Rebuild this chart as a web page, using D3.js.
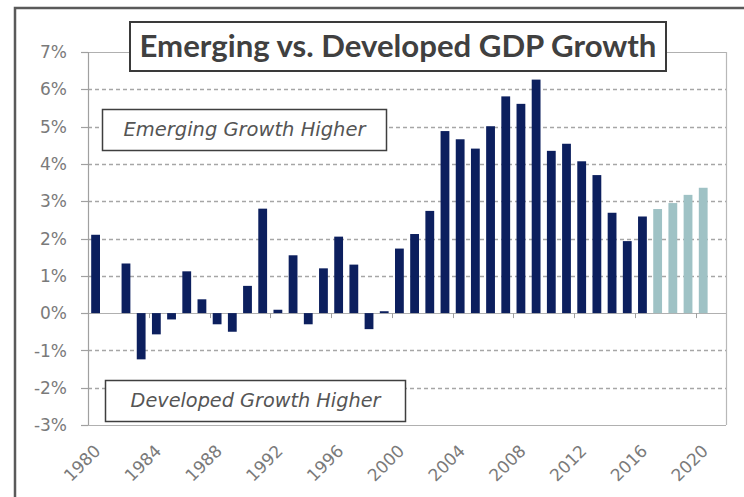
<!DOCTYPE html>
<html>
<head>
<meta charset="utf-8">
<script src="https://cdn.jsdelivr.net/npm/d3@7"></script>
<style>
  html, body { margin: 0; padding: 0; background: #fff; }
  svg { display: block; }
</style>
</head>
<body>
<svg id="chart" width="744" height="497"></svg>
<script>
// ---- data ----
const years = [1980,1981,1982,1983,1984,1985,1986,1987,1988,1989,
               1990,1991,1992,1993,1994,1995,1996,1997,1998,1999,
               2000,2001,2002,2003,2004,2005,2006,2007,2008,2009,
               2010,2011,2012,2013,2014,2015,2016,2017,2018,2019,
               2020,2021];
const actualGap = [2.10,null,1.33,-1.24,-0.57,-0.17,1.12,0.37,-0.30,-0.50,
                   0.73,2.80,0.09,1.55,-0.30,1.20,2.05,1.30,-0.43,0.05,
                   1.73,2.12,2.74,4.88,4.66,4.41,5.01,5.81,5.61,6.26,
                   4.35,4.54,4.07,3.70,2.69,1.93,2.59,null,null,null,
                   null,null];
const forecastGap = [null,null,null,null,null,null,null,null,null,null,
                     null,null,null,null,null,null,null,null,null,null,
                     null,null,null,null,null,null,null,null,null,null,
                     null,null,null,null,null,null,null,2.79,2.95,3.17,
                     3.36,null];
const yTicks = [-3,-2,-1,0,1,2,3,4,5,6,7];
const xTickLabels = [1980,1984,1988,1992,1996,2000,2004,2008,2012,2016,2020];
const title = "Emerging vs. Developed GDP Growth";
const noteTop = "Emerging Growth Higher";
const noteBottom = "Developed Growth Higher";

// ---- layout ----
const svg = d3.select("#chart");
const L = 88, R = 726, T = 52, B = 425;

const x = d3.scaleBand().domain(years).range([L, R]).paddingInner(0.42).paddingOuter(0.21);
const y = d3.scaleLinear().domain([-3, 7]).range([B, T]);

// outer frame
svg.append("rect").attr("x", 15).attr("y", 8).attr("width", 760).attr("height", 520)
  .attr("fill", "#fff").attr("stroke", "#5a5a5a").attr("stroke-width", 2.5);

// gridlines
const g = svg.append("g");
yTicks.forEach(t => {
  const yy = Math.round(y(t)) + 0.5;
  const solid = (t === -3 || t === 0 || t === 7);
  g.append("line").attr("x1", L).attr("x2", R).attr("y1", yy).attr("y2", yy)
    .attr("stroke", solid ? "#b0b0b0" : "#a6a6a6")
    .attr("stroke-width", solid ? 1.2 : 1.6)
    .attr("stroke-dasharray", solid ? null : "4,3");
  g.append("line").attr("x1", L - 7).attr("x2", L).attr("y1", yy).attr("y2", yy)
    .attr("stroke", "#a0a0a0").attr("stroke-width", 1.2);
});
// axis lines / border
g.append("line").attr("x1", L + 0.5).attr("x2", L + 0.5).attr("y1", y(7)).attr("y2", y(-3))
  .attr("stroke", "#a0a0a0").attr("stroke-width", 1.2);
g.append("line").attr("x1", R + 0.5).attr("x2", R + 0.5).attr("y1", y(7)).attr("y2", y(-3))
  .attr("stroke", "#b8b8b8").attr("stroke-width", 1.2);

// x ticks at category boundaries, every 4 years
const step = x.step();
years.forEach((yr, i) => {
  if (i % 4 === 0 && i > 0) {
    const xx = Math.round(x(yr) + x.bandwidth() / 2 - step / 2) + 0.5;
    g.append("line").attr("x1", xx).attr("x2", xx).attr("y1", y(0)).attr("y2", y(0) + 5)
      .attr("stroke", "#a0a0a0").attr("stroke-width", 1);
  }
});

// y labels
svg.append("g").selectAll("text").data(yTicks).join("text")
  .attr("x", 67).attr("y", d => y(d)).attr("dy", "0.36em")
  .attr("text-anchor", "end")
  .attr("font-family", "DejaVu Sans, Verdana, sans-serif")
  .attr("font-size", 17).attr("fill", "#7a7a7a")
  .text(d => d + "%");

// x labels
svg.append("g").selectAll("text").data(xTickLabels).join("text")
  .attr("transform", d => `translate(${x(d) + x.bandwidth() / 2 + 6},${452}) rotate(-45)`)
  .attr("text-anchor", "end")
  .attr("font-family", "DejaVu Sans, Verdana, sans-serif")
  .attr("font-size", 17).attr("fill", "#7a7a7a")
  .text(d => d);

// bars
function drawBars(vals, color) {
  const data = years.map((yr, i) => ({yr, v: vals[i]})).filter(d => d.v !== null);
  svg.append("g").selectAll("rect").data(data).join("rect")
    .attr("x", d => x(d.yr))
    .attr("width", x.bandwidth())
    .attr("y", d => y(Math.max(0, d.v)))
    .attr("height", d => Math.abs(y(d.v) - y(0)))
    .attr("fill", color);
}
drawBars(actualGap, "#0c1f5e");
drawBars(forecastGap, "#9fc2c5");

// note boxes
function noteBox(bx, by, bw, bh, txt, targetW, baseline) {
  svg.append("rect").attr("x", bx).attr("y", by).attr("width", bw).attr("height", bh)
    .attr("fill", "#fff").attr("stroke", "#3f3f3f").attr("stroke-width", 1.5);
  const t = svg.append("text").attr("x", bx + bw / 2).attr("y", baseline)
    .attr("text-anchor", "middle")
    .attr("font-family", "DejaVu Sans, Verdana, sans-serif")
    .attr("font-style", "italic").attr("font-size", 100).attr("fill", "#555")
    .text(txt);
  const w = t.node().getComputedTextLength();
  t.attr("font-size", 100 * targetW / w);
}
noteBox(102.5, 109.5, 284, 41, noteTop, 242, 136);
noteBox(105.5, 380.5, 300, 41, noteBottom, 250, 407);

// title box
svg.append("rect").attr("x", 130).attr("y", 22).attr("width", 536).attr("height", 49)
  .attr("fill", "#fff").attr("stroke", "#3a3a3a").attr("stroke-width", 2);
const tt = svg.append("text").attr("x", 398).attr("y", 57)
  .attr("text-anchor", "middle")
  .attr("font-family", "Lato, 'Open Sans', sans-serif")
  .attr("font-weight", "bold").attr("font-size", 100).attr("fill", "#404040")
  .text(title);
const tw = tt.node().getComputedTextLength();
tt.attr("font-size", 100 * 517 / tw);
</script>
</body>
</html>
